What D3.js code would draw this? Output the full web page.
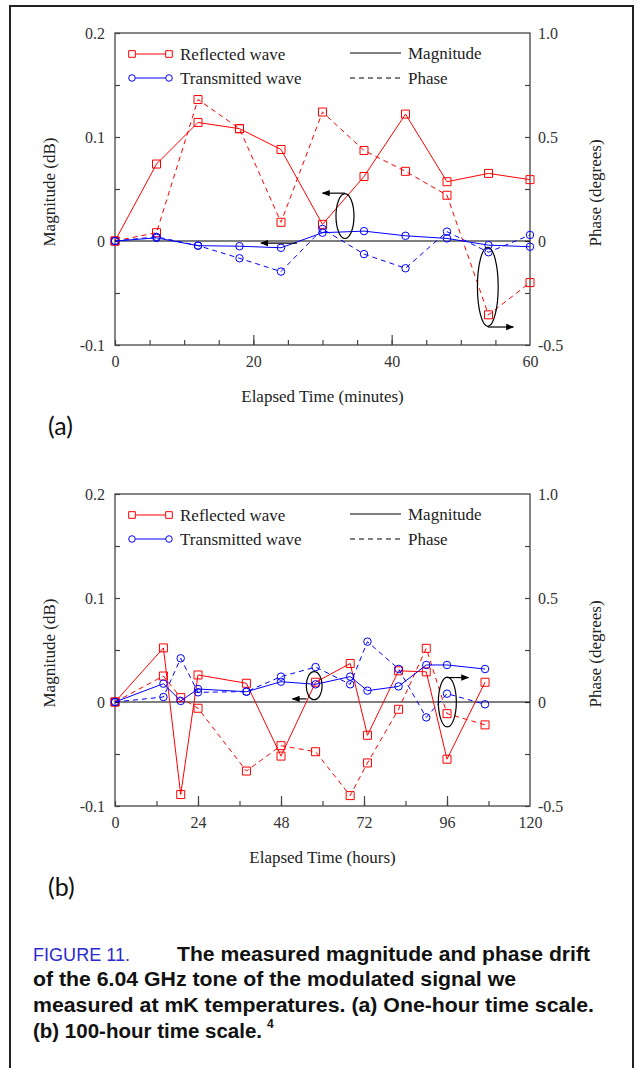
<!DOCTYPE html>
<html>
<head>
<meta charset="utf-8">
<script src="https://cdn.jsdelivr.net/npm/d3@7"></script>
<style>
  body { margin: 0; background: #fff; }
  .tick text { font-family: "Liberation Serif", serif; font-size: 16px; fill: #333; }
  .tick line { stroke: #444; stroke-width: 1.2; }
</style>
</head>
<body>
<div id="chart"></div>
<script>
// (a) one-hour run, minutes
const minutesA = [0, 6, 12, 18, 24, 30, 36, 42, 48, 54, 60];
const reflMagA = [0, 0.074, 0.114, 0.108, 0.088, 0.016, 0.062, 0.122, 0.057, 0.065, 0.059];
const reflPhaseA = [0, 0.04, 0.68, 0.54, 0.09, 0.62, 0.435, 0.335, 0.22, -0.355, -0.2];
const transMagA = [0, 0.003, -0.0045, -0.005, -0.0065, 0.008, 0.0095, 0.005, 0.0025, -0.004, -0.0055];
const transPhaseA = [0, 0.02, -0.022, -0.083, -0.147, 0.058, -0.063, -0.131, 0.045, -0.054, 0.029];

// (b) 100-hour run, hours
const hoursB = [0, 14, 19, 24, 38, 48, 58, 68, 73, 82, 90, 96, 107];
const reflMagB = [0, 0.052, -0.089, 0.026, 0.018, -0.052, 0.019, 0.037, -0.032, 0.030, 0.029, -0.055, 0.019];
const reflPhaseB = [0, 0.125, 0.021, -0.03, -0.332, -0.21, -0.239, -0.45, -0.293, -0.035, 0.258, -0.056, -0.11];
const transMagB = [0, 0.0176, 0.001, 0.0125, 0.0099, 0.0195, 0.017, 0.0244, 0.0109, 0.015, 0.0356, 0.0356, 0.0317];
const transPhaseB = [0, 0.024, 0.21, 0.0465, 0.05, 0.122, 0.168, 0.085, 0.29, 0.159, -0.074, 0.04, -0.011];

// tick labels
const magTicks = [-0.1, 0, 0.1, 0.2];
const phaseTicks = [-0.5, 0, 0.5, 1.0];
const minuteTicks = [0, 20, 40, 60];
const hourTicks = [0, 24, 48, 72, 96, 120];

// callouts (ellipses / arrows), in data units: x, magnitude
const ellipsesA = [[33.25, 0.024, 1.3, 0.0216], [53.9, -0.044, 1.5, 0.038]];
const arrowsA = [[33.25, 30.0, 0.046], [26.3, 21.1, -0.002], [53.9, 57.6, -0.0827]];
const ellipsesB = [[57.6, 0.0157, 2.3, 0.0135], [96.1, 0, 2.6, 0.024]];
const arrowsB = [[55.4, 51.3, 0.003], [96.1, 102.2, 0.0235]];

const RED = "#ff0000", BLUE = "#0000ff";
const W = 415, H = 312;

const svg = d3.select("#chart").append("svg")
    .attr("width", 638)
    .attr("height", 1068);

svg.append("defs").append("marker")
    .attr("id", "arrow")
    .attr("viewBox", "0 0 10 10")
    .attr("refX", 9).attr("refY", 5)
    .attr("markerWidth", 8).attr("markerHeight", 8)
    .attr("markerUnits", "userSpaceOnUse")
    .attr("orient", "auto")
    .append("path")
    .attr("d", "M0,1 L10,5 L0,9 Z")
    .attr("fill", "#000");

// outer figure frame
svg.append("rect")
    .attr("x", 10).attr("y", 6)
    .attr("width", 623).attr("height", 1100)
    .attr("fill", "none").attr("stroke", "#222").attr("stroke-width", 2);

const fmt = d => d === 0 ? "0" : d3.format(".1f")(d).replace("\u2212", "-");

function drawPanel(top, cfg) {
    const g = svg.append("g").attr("transform", "translate(115," + top + ")");

    const x = d3.scaleLinear().domain(cfg.xDomain).range([0, W]);
    const yMag = d3.scaleLinear().domain([-0.1, 0.2]).range([H, 0]);
    const yPh = d3.scaleLinear().domain([-0.5, 1.0]).range([H, 0]);

    // minor ticks
    g.append("g").attr("transform", "translate(0," + H + ")")
        .call(d3.axisBottom(x).tickValues(d3.range(cfg.xDomain[0], cfg.xDomain[1], cfg.minorStep))
            .tickSizeInner(-5).tickSizeOuter(0).tickFormat(""))
        .call(a => a.select(".domain").remove());
    g.append("g")
        .call(d3.axisLeft(yMag).tickValues(d3.range(-0.1, 0.2, 0.05))
            .tickSizeInner(-5).tickSizeOuter(0).tickFormat(""))
        .call(a => a.select(".domain").remove());
    g.append("g").attr("transform", "translate(" + W + ",0)")
        .call(d3.axisRight(yPh).tickValues(d3.range(-0.5, 1.0, 0.25))
            .tickSizeInner(-5).tickSizeOuter(0).tickFormat(""))
        .call(a => a.select(".domain").remove());

    // labelled ticks
    g.append("g").attr("transform", "translate(0," + H + ")")
        .call(d3.axisBottom(x).tickValues(cfg.xTicks)
            .tickSizeInner(-10).tickSizeOuter(0).tickPadding(11).tickFormat(d3.format("d")))
        .call(a => a.select(".domain").remove())
        .call(a => a.selectAll(".tick line").filter(d => d === cfg.xDomain[0] || d === cfg.xDomain[1]).remove());
    g.append("g")
        .call(d3.axisLeft(yMag).tickValues(magTicks)
            .tickSizeInner(0).tickSizeOuter(0).tickPadding(10).tickFormat(fmt))
        .call(a => a.select(".domain").remove());
    g.append("g").attr("transform", "translate(" + W + ",0)")
        .call(d3.axisRight(yPh).tickValues(phaseTicks)
            .tickSizeInner(0).tickSizeOuter(0).tickPadding(8).tickFormat(fmt))
        .call(a => a.select(".domain").remove());

    // plot box
    g.append("rect")
        .attr("width", W).attr("height", H)
        .attr("fill", "none").attr("stroke", "#444").attr("stroke-width", 1.3);

    // zero line
    g.append("line")
        .attr("x1", 0).attr("x2", W)
        .attr("y1", yMag(0)).attr("y2", yMag(0))
        .attr("stroke", "#000").attr("stroke-width", 1.2);

    const series = [
        { vals: cfg.reflMag, y: yMag, color: RED, dash: null, shape: "square" },
        { vals: cfg.reflPhase, y: yPh, color: RED, dash: "5,4", shape: "square" },
        { vals: cfg.transMag, y: yMag, color: BLUE, dash: null, shape: "circle" },
        { vals: cfg.transPhase, y: yPh, color: BLUE, dash: "5,4", shape: "circle" }
    ];

    series.forEach(s => {
        const pts = cfg.t.map((t, i) => [x(t), s.y(s.vals[i])]);
        g.append("path")
            .attr("d", d3.line()(pts))
            .attr("fill", "none")
            .attr("stroke", s.color)
            .attr("stroke-width", 1)
            .attr("stroke-dasharray", s.dash);
        const sym = d3.symbol()
            .type(s.shape === "square" ? d3.symbolSquare : d3.symbolCircle)
            .size(s.shape === "square" ? 64 : 44);
        g.selectAll(null).data(pts).enter().append("path")
            .attr("d", sym)
            .attr("transform", d => "translate(" + d[0] + "," + d[1] + ")")
            .attr("fill", "none")
            .attr("stroke", s.color)
            .attr("stroke-width", 1);
    });

    // callouts
    cfg.ellipses.forEach(e => {
        g.append("ellipse")
            .attr("cx", x(e[0])).attr("cy", yMag(e[1]))
            .attr("rx", x(e[2]) - x(0)).attr("ry", yMag(0) - yMag(e[3]))
            .attr("fill", "none").attr("stroke", "#000").attr("stroke-width", 1.2);
    });
    cfg.arrows.forEach(a => {
        g.append("line")
            .attr("x1", x(a[0])).attr("x2", x(a[1]))
            .attr("y1", yMag(a[2])).attr("y2", yMag(a[2]))
            .attr("stroke", "#000").attr("stroke-width", 1.2)
            .attr("marker-end", "url(#arrow)");
    });

    // legend
    const serif = "Liberation Serif, serif";
    const leg = g.append("g").attr("font-family", serif).attr("font-size", 17).attr("fill", "#222");
    [["Reflected wave", RED, d3.symbolSquare, 44], ["Transmitted wave", BLUE, d3.symbolCircle, 34]].forEach((d, i) => {
        const ly = 21 + i * 24;
        leg.append("line").attr("x1", 17).attr("x2", 54).attr("y1", ly).attr("y2", ly)
            .attr("stroke", d[1]).attr("stroke-width", 1);
        [17, 54].forEach(lx => leg.append("path")
            .attr("d", d3.symbol().type(d[2]).size(d[3]))
            .attr("transform", "translate(" + lx + "," + ly + ")")
            .attr("fill", "#fff").attr("stroke", d[1]).attr("stroke-width", 1));
        leg.append("text").attr("x", 65).attr("y", ly + 6).text(d[0]);
    });
    [["Magnitude", null], ["Phase", "5,4"]].forEach((d, i) => {
        const ly = 20 + i * 25;
        leg.append("line").attr("x1", 235).attr("x2", 286).attr("y1", ly).attr("y2", ly)
            .attr("stroke", "#000").attr("stroke-width", 1).attr("stroke-dasharray", d[1]);
        leg.append("text").attr("x", 293).attr("y", ly + 6).text(d[0]);
    });

    // axis titles
    g.append("text")
        .attr("x", W / 2).attr("y", H + 57)
        .attr("text-anchor", "middle")
        .attr("font-family", serif).attr("font-size", 17).attr("fill", "#222")
        .text(cfg.xTitle);
    g.append("text")
        .attr("transform", "translate(-60," + (H / 2 + 3) + ") rotate(-90)")
        .attr("text-anchor", "middle")
        .attr("font-family", serif).attr("font-size", 17).attr("fill", "#222")
        .text("Magnitude (dB)");
    g.append("text")
        .attr("transform", "translate(" + (W + 71) + "," + (H / 2 + 4) + ") rotate(-90)")
        .attr("text-anchor", "middle")
        .attr("font-family", serif).attr("font-size", 17).attr("fill", "#222")
        .text("Phase (degrees)");

    g.append("text")
        .attr("x", -67).attr("y", H + 90)
        .attr("font-family", "Lato, sans-serif").attr("font-size", 25).attr("fill", "#111")
        .text(cfg.tag);
}

drawPanel(33, {
    t: minutesA, reflMag: reflMagA, reflPhase: reflPhaseA, transMag: transMagA, transPhase: transPhaseA,
    xDomain: [0, 60], minorStep: 5, xTicks: minuteTicks,
    ellipses: ellipsesA, arrows: arrowsA,
    xTitle: "Elapsed Time (minutes)", tag: "(a)"
});

drawPanel(494, {
    t: hoursB, reflMag: reflMagB, reflPhase: reflPhaseB, transMag: transMagB, transPhase: transPhaseB,
    xDomain: [0, 120], minorStep: 12, xTicks: hourTicks,
    ellipses: ellipsesB, arrows: arrowsB,
    xTitle: "Elapsed Time (hours)", tag: "(b)"
});

// caption
const cap = svg.append("g").attr("font-family", "'Liberation Sans', Arial, sans-serif");
cap.append("text").attr("x", 33).attr("y", 961)
    .attr("font-size", 18).attr("fill", "#2b2bd0")
    .attr("textLength", 97).attr("lengthAdjust", "spacingAndGlyphs")
    .text("FIGURE 11.");
const capLines = [
    [177, 961, 413, "The measured magnitude and phase drift"],
    [33, 986, 483, "of the 6.04 GHz tone of the modulated signal we"],
    [33, 1012, 561, "measured at mK temperatures. (a) One-hour time scale."],
    [33, 1038, 229, "(b) 100-hour time scale."]
];
capLines.forEach(l => cap.append("text")
    .attr("x", l[0]).attr("y", l[1])
    .attr("font-size", 20).attr("font-weight", "bold").attr("fill", "#111")
    .attr("textLength", l[2]).attr("lengthAdjust", "spacingAndGlyphs")
    .text(l[3]));
cap.append("text")
    .attr("x", 267).attr("y", 1028)
    .attr("font-weight", "bold").attr("font-size", 12).attr("fill", "#111")
    .text("4");
</script>
</body>
</html>
